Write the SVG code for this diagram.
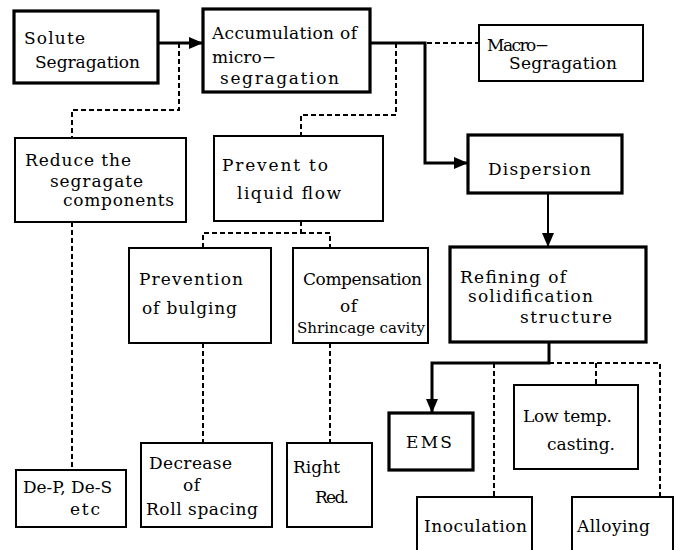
<svg xmlns="http://www.w3.org/2000/svg" width="676" height="550" viewBox="0 0 676 550">
<style>
.box{fill:#fff;stroke:#000;stroke-width:2}
.thick{stroke-width:3.2}
.t{font-family:"DejaVu Serif","Liberation Serif",serif;font-size:17px;fill:#000}
.s{font-size:14px}
.c{fill:none;stroke:#000;stroke-width:3}
.m{fill:none;stroke:#000;stroke-width:2}
.d{fill:none;stroke:#000;stroke-width:2;stroke-dasharray:5 3}
</style>
<defs>
<marker id="ah" markerUnits="userSpaceOnUse" markerWidth="14" markerHeight="12" refX="14" refY="6" orient="auto">
<path d="M0,0 L14,6 L0,12 z" fill="#000"/>
</marker>
</defs>
<rect width="676" height="550" fill="#fff"/>
<g id="connectors">
<path class="c" d="M158,43 H203" marker-end="url(#ah)"/>
<path class="c" d="M370,43 H425 V163 H468" marker-end="url(#ah)"/>
<path class="d" d="M427,43 H479"/>
<path class="m" d="M548,193 V247" marker-end="url(#ah)"/>
<path class="c" d="M549,342 V363 H432 V413" marker-end="url(#ah)"/>
<path class="d" d="M549,363 H660 V497"/>
<path class="d" d="M494,363 V497"/>
<path class="d" d="M596,363 V385"/>
<path class="d" d="M179,43 V110 H72 V138"/>
<path class="d" d="M72,222 V470"/>
<path class="d" d="M396,43 V115 H301 V136"/>
<path class="d" d="M301,221 V233 H203 V248"/>
<path class="d" d="M301,233 H330 V248"/>
<path class="d" d="M203,343 V443"/>
<path class="d" d="M330,343 V443"/>
</g>
<g id="solute">
<rect class="box thick" x="14" y="11" width="144" height="72"/>
<text class="t" x="24" y="44" textLength="61" lengthAdjust="spacing">Solute</text>
<text class="t" x="35" y="68" textLength="105" lengthAdjust="spacing">Segragation</text>
</g>
<g id="accumulation">
<rect class="box thick" x="203" y="9" width="167" height="83"/>
<text class="t" x="212" y="39" textLength="145" lengthAdjust="spacing">Accumulation of</text>
<text class="t" x="212" y="63" textLength="64" lengthAdjust="spacing">micro−</text>
<text class="t" x="220" y="84" textLength="119" lengthAdjust="spacing">segragation</text>
</g>
<g id="macro">
<rect class="box" x="479" y="25" width="164" height="56"/>
<text class="t" x="487" y="51" textLength="62" lengthAdjust="spacing">Macro−</text>
<text class="t" x="509" y="69" textLength="108" lengthAdjust="spacing">Segragation</text>
</g>
<g id="reduce">
<rect class="box" x="15" y="138" width="171" height="84"/>
<text class="t" x="25" y="166" textLength="106" lengthAdjust="spacing">Reduce the</text>
<text class="t" x="50" y="187" textLength="93" lengthAdjust="spacing">segragate</text>
<text class="t" x="63" y="206" textLength="111" lengthAdjust="spacing">components</text>
</g>
<g id="prevent">
<rect class="box" x="214" y="136" width="169" height="85"/>
<text class="t" x="222" y="171" textLength="106" lengthAdjust="spacing">Prevent to</text>
<text class="t" x="237" y="199" textLength="104" lengthAdjust="spacing">liquid flow</text>
</g>
<g id="dispersion">
<rect class="box thick" x="468" y="135" width="154" height="58"/>
<text class="t" x="488" y="175" textLength="103" lengthAdjust="spacing">Dispersion</text>
</g>
<g id="prevention">
<rect class="box" x="129" y="248" width="142" height="95"/>
<text class="t" x="139" y="285" textLength="104" lengthAdjust="spacing">Prevention</text>
<text class="t" x="142" y="314" textLength="95" lengthAdjust="spacing">of bulging</text>
</g>
<g id="compensation">
<rect class="box" x="293" y="248" width="135" height="95"/>
<text class="t" x="303" y="285" textLength="119" lengthAdjust="spacing">Compensation</text>
<text class="t" x="340" y="312" textLength="17" lengthAdjust="spacing">of</text>
<text class="t s" x="297" y="333" textLength="128" lengthAdjust="spacingAndGlyphs">Shrincage cavity</text>
</g>
<g id="refining">
<rect class="box thick" x="450" y="247" width="196" height="95"/>
<text class="t" x="460" y="283" textLength="106" lengthAdjust="spacing">Refining of</text>
<text class="t" x="468" y="302" textLength="125" lengthAdjust="spacing">solidification</text>
<text class="t" x="520" y="323" textLength="92" lengthAdjust="spacing">structure</text>
</g>
<g id="ems">
<rect class="box thick" x="389" y="413" width="84" height="57"/>
<text class="t" x="406" y="448" textLength="46" lengthAdjust="spacing">EMS</text>
</g>
<g id="lowtemp">
<rect class="box" x="514" y="385" width="124" height="84"/>
<text class="t" x="523" y="422" textLength="89" lengthAdjust="spacing">Low temp.</text>
<text class="t" x="547" y="450" textLength="68" lengthAdjust="spacing">casting.</text>
</g>
<g id="inoculation">
<rect class="box" x="417" y="497" width="115" height="60"/>
<text class="t" x="424" y="532" textLength="103" lengthAdjust="spacing">Inoculation</text>
</g>
<g id="alloying">
<rect class="box" x="572" y="497" width="101" height="60"/>
<text class="t" x="577" y="532" textLength="73" lengthAdjust="spacing">Alloying</text>
</g>
<g id="dep">
<rect class="box" x="16" y="470" width="110" height="57"/>
<text class="t" x="23" y="493" textLength="89" lengthAdjust="spacingAndGlyphs">De-P, De-S</text>
<text class="t" x="70" y="515" textLength="30" lengthAdjust="spacing">etc</text>
</g>
<g id="decrease">
<rect class="box" x="141" y="443" width="131" height="84"/>
<text class="t" x="149" y="469" textLength="83" lengthAdjust="spacing">Decrease</text>
<text class="t" x="183" y="491" textLength="17" lengthAdjust="spacing">of</text>
<text class="t" x="146" y="515" textLength="112" lengthAdjust="spacing">Roll spacing</text>
</g>
<g id="right">
<rect class="box" x="287" y="443" width="85" height="84"/>
<text class="t" x="293" y="473" textLength="47" lengthAdjust="spacing">Right</text>
<text class="t" x="315" y="503" textLength="34" lengthAdjust="spacing">Red.</text>
</g>
</svg>
